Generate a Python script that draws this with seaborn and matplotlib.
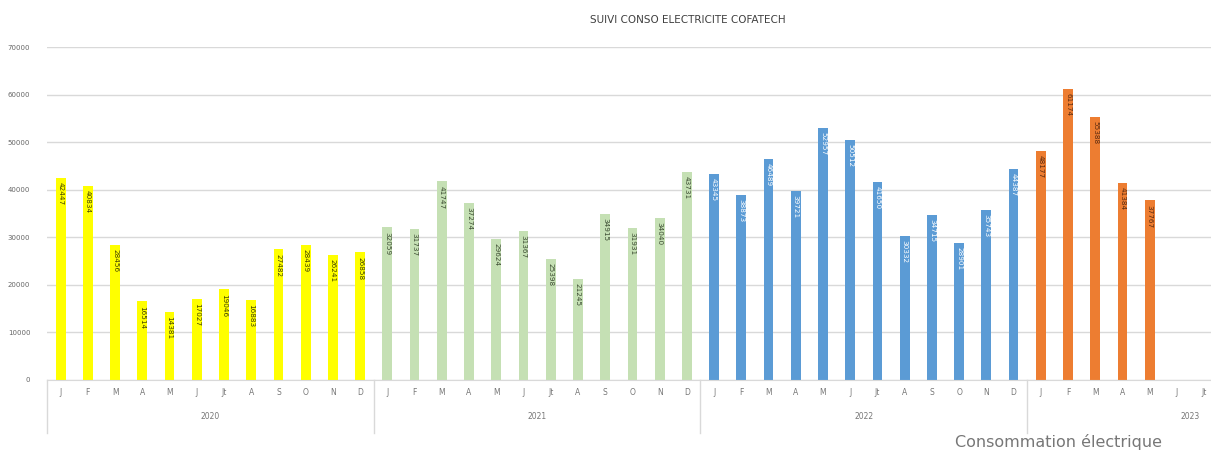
import numpy as np
import pandas as pd
import matplotlib
matplotlib.use("Agg")
import matplotlib.pyplot as plt
import seaborn as sb

months = ["J", "F", "M", "A", "M", "J", "Jt", "A", "S", "O", "N", "D"]
years = ["2020", "2021", "2022", "2023"]

conso_2020 = [42447, 40834, 28456, 16514, 14381, 17027, 19046, 16883, 27482, 28439, 26241, 26858]
conso_2021 = [32059, 31737, 41747, 37274, 29624, 31367, 25398, 21245, 34915, 31931, 34040, 43731]
conso_2022 = [43345, 38873, 46489, 39721, 52957, 50512, 41650, 30332, 34715, 28901, 35743, 44387]
conso_2023 = [48177, 61174, 55388, 41384, 37767, np.nan, np.nan]

couleurs = {"2020": "#FFFF00", "2021": "#C5E0B4", "2022": "#5B9BD5", "2023": "#ED7D31"}
couleur_txt = {"2020": "#404000", "2021": "#3a4a30", "2022": "white", "2023": "#5a2a10"}

## construction du tableau
lignes = []
for an, vals in zip(years, [conso_2020, conso_2021, conso_2022, conso_2023]):
    for i, v in enumerate(vals):
        lignes.append({"cle": an + "-" + str(i), "mois": months[i], "annee": an, "kwh": v})
df = pd.DataFrame(lignes)

fig = plt.figure(figsize=(12.11, 4.54), dpi=100)
ax = fig.add_axes([47 / 1211, 74 / 454, 1 - 47 / 1211, 333 / 454])

sb.barplot(data=df, x="cle", y="kwh", hue="annee", palette=couleurs, order=list(df["cle"]),
           dodge=False, width=0.36, legend=False, ax=ax, saturation=1)

ax.set_ylim(0, 70000)
ax.set_xlim(-0.5, 42.25)
ax.set_yticks(range(0, 70001, 10000))
ax.set_yticklabels(["0"] + [str(v) for v in range(10000, 70001, 10000)], fontsize=5, color="#666666")
ax.yaxis.set_tick_params(length=0, pad=12)
ax.grid(axis="y", color="#d9d9d9", linewidth=1)
ax.set_axisbelow(True)
for s in ["top", "right", "left"]:
    ax.spines[s].set_visible(False)
ax.spines["bottom"].set_color("#d9d9d9")

ax.set_xticks(range(len(df)))
ax.set_xticklabels(df["mois"], fontsize=5.5, color="#777777")
ax.xaxis.set_tick_params(length=0, pad=6)
ax.set_xlabel("")
ax.set_ylabel("")

# etiquettes des barres
for i, r in df.iterrows():
    if pd.isna(r["kwh"]):
        continue
    ax.text(i, r["kwh"] - 900, str(int(r["kwh"])), rotation=270, ha="center", va="top",
            fontsize=5.2, color=couleur_txt[r["annee"]])

# annees et separateurs
trans = ax.get_xaxis_transform()
for k, an in enumerate(years):
    debut = k * 12 - 0.5
    ax.plot([debut, debut], [0, -0.16], color="#d9d9d9", linewidth=1, transform=trans, clip_on=False)
    ax.text(k * 12 + 5.5, -0.11, an, fontsize=5.5, color="#777777", ha="center", va="center",
            transform=trans)

fig.text(688 / 1211, 1 - 20 / 454, "SUIVI CONSO ELECTRICITE COFATECH", ha="center", va="center",
         fontsize=7.5, color="#404040")
fig.text(1162 / 1211, 1 - 442 / 454, "Consommation électrique", ha="right", va="center",
         fontsize=11.5, color="#777777")

plt.savefig("out.png", dpi=100)
